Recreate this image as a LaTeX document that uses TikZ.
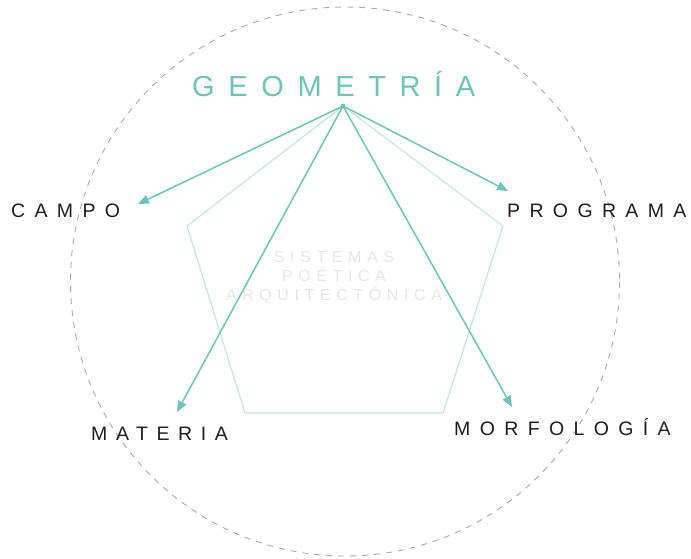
\documentclass[tikz,border=0pt]{standalone}
\usepackage{fontspec}
\setmainfont{Liberation Sans}
\newfontfamily\titlefont{Liberation Sans}[LetterSpace=47]
\newfontfamily\labelfont{Liberation Sans}[LetterSpace=48]
\newfontfamily\labelfontb{Liberation Sans}[LetterSpace=44]
\newfontfamily\centerfont{Liberation Sans}[LetterSpace=35]
\usetikzlibrary{arrows.meta}
\definecolor{teal1}{RGB}{110,196,184}
\definecolor{tealpale}{RGB}{196,228,223}
\definecolor{labelgray}{RGB}{30,30,30}
\definecolor{circgray}{RGB}{170,170,170}
\definecolor{ghost}{RGB}{230,230,230}
\tikzset{
  arrowline/.style={draw=teal1, line width=1.5pt, -{Triangle[length=11pt,width=9pt]}},
  paleline/.style={draw=tealpale, line width=1.2pt},
  lbl/.style={font=\labelfont\fontsize{19.5}{20}\selectfont, text=labelgray, inner sep=0pt, anchor=base west},
}
\begin{document}
\begin{tikzpicture}[x=1pt,y=-1pt]
\useasboundingbox (0,0) rectangle (691,558);
% dashed circle
\draw[circgray, line width=0.9pt, dash pattern=on 6pt off 6pt] (345,281.5) circle (274.5);
% pentagon vertices
\coordinate (apex) at (343,106);
\coordinate (pl) at (187,226);
\coordinate (pr) at (503,226);
\coordinate (bl) at (245,413);
\coordinate (br) at (443,413);
\draw[paleline] (pl) -- (bl) -- (br) -- (pr);
\draw[paleline] (apex) -- (pl);
\draw[paleline] (apex) -- (pr);
% center text
\node[font=\centerfont\fontsize{16}{19}\selectfont, text=ghost, align=center, inner sep=0pt, anchor=base] (sys) at (334,300) {SISTEMAS\\POÉTICA\\ARQUITECTÓNICA};
% title
\node[font=\titlefont\fontsize{29}{30}\selectfont, text=teal1, inner sep=0pt, anchor=base west] (geo) at (192,96.5) {GEOMETRÍA};
% labels
\node[lbl] (campo) at (11,217) {CAMPO};
\node[lbl] (programa) at (507,217) {PROGRAMA};
\node[lbl, font=\labelfontb\fontsize{19.5}{20}\selectfont] (materia) at (91,440) {MATERIA};
\node[lbl] (morfo) at (454,435.5) {MORFOLOGÍA};
% arrow targets
\coordinate (tc) at (138,204);
\coordinate (tp) at (508,191);
\coordinate (tm) at (177,412);
\coordinate (tf) at (512,407);
\draw[arrowline] (apex) -- (tc);
\draw[arrowline] (apex) -- (tp);
\draw[arrowline] (apex) -- (tm);
\draw[arrowline] (apex) -- (tf);
\fill[teal1] (apex) circle (2.4);
\end{tikzpicture}
\end{document}
